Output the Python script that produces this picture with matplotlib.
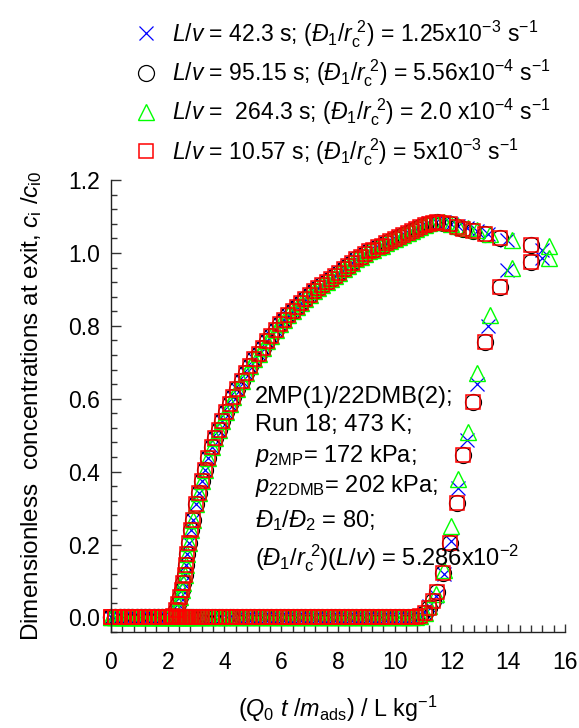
import matplotlib
matplotlib.use("Agg")
import matplotlib.pyplot as plt
from matplotlib.ticker import MultipleLocator

plt.rcParams['font.family'] = ['Liberation Sans', 'DejaVu Sans']
plt.rcParams['mathtext.fontset'] = 'custom'
plt.rcParams['mathtext.rm'] = 'Liberation Sans'
plt.rcParams['mathtext.it'] = 'Liberation Sans:italic'
plt.rcParams['mathtext.bf'] = 'Liberation Sans:bold'

# ------------------------------------------------------------
# Data
# ------------------------------------------------------------
# shared sample points up to x ~ 11 (all four simulations overlap here)
x_bulk = [0.0, 0.15, 0.3, 0.45, 0.6, 0.75, 0.9, 1.05, 1.2, 1.35, 1.5, 1.65, 1.8, 1.95, 2.1,
          2.2, 2.28, 2.36, 2.43, 2.49, 2.55, 2.6, 2.64, 2.68, 2.75,
          2.82, 2.9, 3.0, 3.1, 3.2, 3.3, 3.42, 3.55, 3.68, 3.8,
          3.92, 4.05, 4.18, 4.3, 4.45, 4.6, 4.75, 4.9, 5.05, 5.2,
          5.35, 5.5, 5.65, 5.8, 5.95, 6.1, 6.25, 6.4, 6.55, 6.7,
          6.85, 7.0, 7.15, 7.3, 7.45, 7.6, 7.75, 7.9, 8.05, 8.2,
          8.35, 8.5, 8.65, 8.8, 8.95, 9.1, 9.25, 9.4, 9.55, 9.7,
          9.85, 10.0, 10.15, 10.3, 10.45, 10.6, 10.75, 10.9, 11.05]

# 2MP (component 1)
c1_bulk = [0.0] * 15 + [
    0.005, 0.02, 0.038, 0.055, 0.075, 0.095, 0.116, 0.145, 0.175, 0.205,
    0.24, 0.268, 0.31, 0.342, 0.375, 0.405, 0.437, 0.468, 0.493, 0.515,
    0.54, 0.564, 0.585, 0.605, 0.628, 0.648, 0.67, 0.69, 0.708, 0.724,
    0.74, 0.757, 0.773, 0.789, 0.805, 0.817, 0.829, 0.841, 0.852, 0.863,
    0.874, 0.885, 0.895, 0.904, 0.912, 0.92, 0.928, 0.937, 0.946, 0.955,
    0.964, 0.973, 0.982, 0.99, 0.998, 1.004, 1.009, 1.015, 1.02, 1.026,
    1.032, 1.038, 1.043, 1.049, 1.055, 1.061, 1.066, 1.071, 1.076]

# 22DMB (component 2)
c2_bulk = [0.0] * 82 + [0.005, 0.012]

# tails, where the runs separate a little
x_tail_red = [11.2, 11.35, 11.5, 11.7, 11.94, 12.18, 12.42, 12.75, 13.17, 13.7, 14.8]
c1_tail_red = [1.08, 1.083, 1.085, 1.083, 1.078, 1.072, 1.067, 1.06, 1.052, 1.04, 1.022]
c2_tail_red = [0.025, 0.045, 0.07, 0.123, 0.205, 0.315, 0.445, 0.59, 0.755, 0.907, 0.975]

x_tail_blue = [11.2, 11.45, 11.72, 11.98, 12.22, 12.53, 12.9, 13.28, 13.96, 15.2]
c1_tail_blue = [1.081, 1.084, 1.084, 1.079, 1.074, 1.068, 1.061, 1.053, 1.036, 1.008]
c2_tail_blue = [0.03, 0.06, 0.12, 0.21, 0.354, 0.486, 0.64, 0.80, 0.953, 0.985]

x_tail_green = [11.2, 11.47, 11.75, 12.0, 12.22, 12.57, 12.9, 13.35, 14.12, 15.45]
c1_tail_green = [1.081, 1.085, 1.084, 1.079, 1.075, 1.068, 1.062, 1.052, 1.035, 1.02]
c2_tail_green = [0.03, 0.065, 0.13, 0.25, 0.38, 0.51, 0.67, 0.83, 0.96, 0.985]

labels = [
    r"$\mathit{L/v}$ = 42.3 s; ($\mathit{Đ}_1/\mathit{r}_{\mathrm{c}}^{\ 2}$) = 1.25x10$^{-3}$ s$^{-1}$",
    r"$\mathit{L/v}$ = 95.15 s; ($\mathit{Đ}_1/\mathit{r}_{\mathrm{c}}^{\ 2}$) = 5.56x10$^{-4}$ s$^{-1}$",
    r"$\mathit{L/v}$ =  264.3 s; ($\mathit{Đ}_1/\mathit{r}_{\mathrm{c}}^{\ 2}$) = 2.0 x10$^{-4}$ s$^{-1}$",
    r"$\mathit{L/v}$ = 10.57 s; ($\mathit{Đ}_1/\mathit{r}_{\mathrm{c}}^{\ 2}$) = 5x10$^{-3}$ s$^{-1}$",
]

notes = [
    r"2MP(1)/22DMB(2);",
    r"Run 18; 473 K;",
    r"$\mathit{p}_{\mathrm{2MP}}$= 172 kPa;",
    r"$\mathit{p}_{\mathrm{22DMB}}$= 202 kPa;",
    r"$\mathit{Đ}_1/\mathit{Đ}_2$ = 80;",
    r"($\mathit{Đ}_1/\mathit{r}_{\mathrm{c}}^{\ 2}$)($\mathit{L/v}$) = 5.286x10$^{-2}$",
]
note_y = [0.589, 0.511, 0.426, 0.343, 0.249, 0.144]

# ------------------------------------------------------------
# Plot
# ------------------------------------------------------------
fig = plt.figure(figsize=(5.79, 7.28), dpi=100)
ax = fig.add_axes([0.1917, 0.1319, 0.7841, 0.6208])

x_blue = x_bulk + x_tail_blue
x_red = x_bulk + x_tail_red
x_green = x_bulk + x_tail_green

series = [
    (x_blue, c1_bulk + c1_tail_blue, c2_bulk + c2_tail_blue,
     dict(marker="x", color="#0000FF", ms=10, mew=0.9)),
    (x_red, c1_bulk + c1_tail_red, c2_bulk + c2_tail_red,
     dict(marker="o", color="#000000", mfc="none", ms=11.5, mew=0.9)),
    (x_green, c1_bulk + c1_tail_green, c2_bulk + c2_tail_green,
     dict(marker="^", color="#00FF00", mfc="none", ms=12, mew=1.0)),
    (x_red, c1_bulk + c1_tail_red, c2_bulk + c2_tail_red,
     dict(marker="s", color="#FF0000", mfc="none", ms=10, mew=1.1)),
]

handles = []
for xs, y1, y2, st in series:
    h, = ax.plot(xs, y1, ls="none", clip_on=False, **st)
    ax.plot(xs, y2, ls="none", clip_on=False, **st)
    handles.append(h)

ax.set_xlim(0, 16)
ax.set_ylim(-0.04, 1.2)
ax.xaxis.set_major_locator(MultipleLocator(2))
ax.xaxis.set_minor_locator(MultipleLocator(0.4))
ax.yaxis.set_major_locator(MultipleLocator(0.2))
ax.yaxis.set_minor_locator(MultipleLocator(0.04))
ax.yaxis.set_major_formatter(plt.FormatStrFormatter("%.1f"))

for s in ["top", "right"]:
    ax.spines[s].set_visible(False)
for s in ["left", "bottom"]:
    ax.spines[s].set_linewidth(1.0)
    ax.spines[s].set_color("#222222")

ax.tick_params(axis="both", which="both", direction="in", color="#333333", labelsize=16.5)
ax.tick_params(axis="y", which="major", length=7, width=1, pad=8)
ax.tick_params(axis="y", which="minor", length=4.5, width=1)
ax.tick_params(axis="x", which="major", length=6, width=1, pad=14)
ax.tick_params(axis="x", which="minor", length=5, width=1)

ax.set_xlabel(r"($\mathit{Q}_0$ $\mathit{t}$ /$\mathit{m}_{\mathrm{ads}}$) / L kg$^{-1}$",
              fontsize=16.8, labelpad=14)
ax.set_ylabel(r"Dimensionless  concentrations at exit, $\mathit{c}_{\mathrm{i}}$ /$\mathit{c}_{\mathrm{i0}}$",
              fontsize=17.5, labelpad=17)

for txt, yy in zip(notes, note_y):
    ax.text(5.07, yy, txt, fontsize=17, va="baseline", ha="left")

fig.legend(handles, labels, loc="upper left", bbox_to_anchor=(0.233, 0.975),
           frameon=False, fontsize=16.5, handlelength=1.0, handletextpad=0.6,
           labelspacing=0.33, borderpad=0, borderaxespad=0)

fig.savefig("out.png", dpi=100)
